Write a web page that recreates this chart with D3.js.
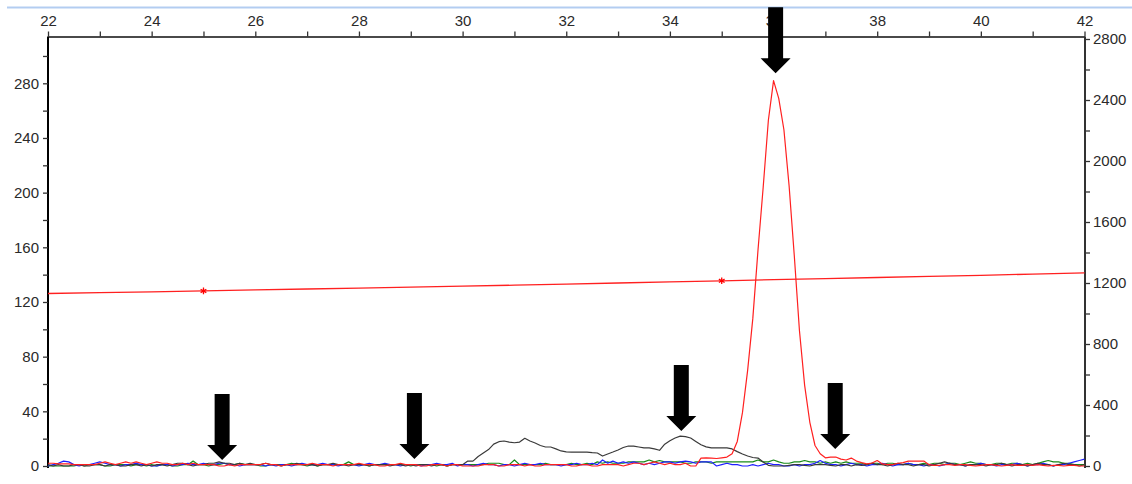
<!DOCTYPE html>
<html lang="en">
  <head>
    <meta charset="utf-8">
    <title>Chromatogram</title>
    <script src="https://d3js.org/d3.v7.min.js"></script>
    <style>
      body { margin: 0; background: #fff; }
      text { font-family: "Liberation Sans", Arial, sans-serif; font-size: 15px; fill: #2a2a2a; }
    </style>
  </head>
  <body>
    <div id="chart"></div>
    <script type="text/javascript">
      // sampling of the traces: start x and step (minutes)
      var xStart = 22, xStep = 0.1;

      // trace values, one per sample (left axis units)
      var blackTrace = [
        1,0,1,0,0,1,1,0,0,1, 1,0,1,1,0,0,1,1,0,1, 0,1,1,0,1,2,2,1,0,1,
        1,2,2,3,2,2,1,2,1,2, 1,1,2,1,1,0,1,1,2,1, 1,1,0,1,1,2,1,1,0,1,
        1,1,0,1,1,1,0,1,1,0, 1,0,1,1,0,1,1,0,1,1,
        1,3.6,3.6,7,9.5,12,16,17.8,18.3,17.5, 17,17.5,20.3,18.3,16.8,15,13.9,13.9,12.5,11,
        10.3,10.2,10.2,10.2,10.2,9.8,9.5,7.3,8.8,10.2, 11.7,13.5,14.6,14.6,13.9,13.2,13.2,12.5,11.5,16,
        18.5,20.5,21.9,21.5,20.5,18,15.5,14,13.2,13.2, 13.2,13.2,12.5,10.5,8.8,7.3,6.2,5.8,3,0.5,
        0,0,0,0.5,1,1,0.5,0,1,1, 1,0.5,0,1,1,0,1,0.5,1,2, 1,1,0,1,2,1,1,0,1,1,
        0,1,2,3,2,1,1,0,1,1, 1,0,1,1,2,1,0,1,1,0, 1,2,1,1,0,1,2,1,1,0, 1
      ];
      var blueTrace = [
        0,1,2,3.6,3,1,0,1,1,2, 3,2,1,1,0,1,1,2,1,1, 0,0,1,1,0,1,1,2,1,1,
        2,1,1,2,2,1,1,0,1,1, 1,1,0,1,0,1,1,0,1,2, 1,1,1,2,1,1,0,1,1,1,
        0,1,2,1,1,2,1,1,0,1, 1,1,0,1,1,2,1,1,2,0, 1,1,0,1,2,1,1,0,1,1,
        0,1,2,1,1,2,1,1,1,0, 1,1,2,1,1,2,1,4.4,2,3.6, 2,3,2,3,2,1,2,1,2,3,
        3,2,3,3.5,3,2,3,3,3,0, 1,2,1,1,0,0,1,0,1,2, 1,1,0,0,1,0,1,1,2,4,
        2,1,1,0,1,2,1,1,0,1, 1,2,1,0,1,1,2,1,1,0, 1,1,0,1,2,1,1,0,1,1,
        2,1,1,0,1,1,1,2,1,0, 1,1,2,1,0,1,1,2,3,4, 5
      ];
      var greenTrace = [
        0,0,0,0,0,0,1,0,1,1, 1,0,0,1,1,1,0,1,1,0, 1,0,1,1,0,0,1,1,3.6,1,
        1,0,1,1,2,1,1,2,1,1, 1,0,0,1,1,1,1,2,1,1, 0,1,0,1,1,1,1,1,3,1,
        1,1,0,1,1,1,1,1,1,1, 0,1,1,1,1,0,1,0,1,1, 1,1,1,1,1,2,2,2,1,1,
        4.4,1,1,1,1,1,2,1,1,1, 1,2,1,1,2,1,3,2,3,2, 2,2,3,3,3,3,4.4,3,4,3,
        3,3,3,2,2,3,3,3,2,3, 3,3,3,3,3,3,3,4.4,3,3, 4.4,3,2,2,3,3,4,3,3,2,
        3,2,3,2,3,2,2,2,1,2, 2,1,2,2,1,1,2,1,1,2, 1,2,2,1,2,2,1,2,3,2,
        2,1,1,2,2,1,2,2,1,2, 1,2,3,4,3,3,2,2,1,1, 1
      ];
      var redTrace = [
        2,2,1.5,1.5,1.5,1,1,1,1,1, 2,3,2,1,2,3,2,3,2,1, 2,3,2,2,1,1,2,1,2,1,
        1,1,1,0,0,1,0,1,1,1, 1,1,2,1,1,0,1,1,1,1, 1,2,1,1,1,0,1,1,1,1,
        2,1,1,1,0,0,1,1,2,1, 1,1,0,0,1,1,1,0,1,1, 0,0,0,0,1,1,1,0,0,1,
        1,1,0,1,0,0,1,1,1,1, 1,0,0,1,1,0,0,1,1,1, 1,0,1,2,2,1,2,3,2,1,
        2,1,1,2,0,0,5.8,6,5.8,5.5, 6,6.5,9,18,39,70,108,158,204,253,
        282,269,246,205,154,99,59,32,15,9, 6,6.5,6.6,5,4.4,5.8,3.6,2.5,1.5,2.2,
        4,1.5,1,1,2,2.5,3.6,3.6,3.6,3.6, 1,0.5,0.5,1,1,0.5,1,1,0.5,0,
        0.5,1,1,0.5,0,0.5,1,0.5,0.5,1, 0.5,1,0.5,0,0.5,0.5,0,0.5,0.5,0, 0
      ];

      // reference line, one point per minute, and its two marked points
      var refX = [22,23,24,25,26,27,28,29,30,31,32,33,34,35,36,37,38,39,40,41,42];
      var refY = [126.2,126.8,127.4,128.1,128.8,129.5,130.2,130.9,131.6,132.3,133.1,
                  133.9,134.7,135.5,136.3,137.1,137.9,138.7,139.5,140.4,141.3];
      var refMarks = [{x: 25, y: 128.1}, {x: 35, y: 135.5}];

      // arrows: x position and tip value
      var arrowX   = [25.36, 29.07, 34.22, 36.04, 37.19];
      var arrowTip = [4.4, 5.1, 25.6, 287.3, 12.4];

      // tick values
      var xTicks = [22,24,26,28,30,32,34,36,38,40,42];
      var xMinor = d3.range(22, 43, 1);
      var leftTicks = d3.range(0, 301, 20);
      var rightTicks = d3.range(0, 2801, 200);

      var svg = d3.select('#chart')
        .append('svg')
        .attr('width', 1132)
        .attr('height', 484);

      var xScale = d3.scaleLinear().domain([22, 42]).range([48, 1084.5]);
      var yLeft = d3.scaleLinear().domain([0, 280]).range([466, 83.3]);
      var yRight = d3.scaleLinear().domain([0, 2800]).range([466, 39]);

      // light blue frame line at the very top
      svg.append('line')
        .attr('x1', 7).attr('x2', 1132)
        .attr('y1', 7.5).attr('y2', 7.5)
        .style('stroke', '#b3cdf1')
        .style('stroke-width', 2);

      // top axis
      var topAxis = d3.axisTop(xScale)
        .tickValues(xMinor)
        .tickSize(5)
        .tickSizeOuter(0)
        .tickPadding(6)
        .tickFormat(function (d) { return xTicks.indexOf(d) >= 0 ? d : ''; });
      var gTop = svg.append('g')
        .attr('transform', 'translate(0, 36.5)')
        .call(topAxis);
      gTop.select('.domain').style('stroke', '#4a4a4a').style('stroke-width', 2);
      gTop.selectAll('.tick line').style('stroke', '#333').style('stroke-width', 1.3);

      // left axis
      var leftAxis = d3.axisLeft(yLeft)
        .tickValues(leftTicks)
        .tickSize(5)
        .tickSizeOuter(0)
        .tickPadding(4)
        .tickFormat(function (d) { return d % 40 === 0 ? d : ''; });
      var gLeft = svg.append('g')
        .attr('transform', 'translate(48, 0)')
        .call(leftAxis);
      gLeft.select('.domain').attr('d', 'M0,36.5V468').style('stroke', '#000').style('stroke-width', 2);
      gLeft.selectAll('.tick line').style('stroke', '#333').style('stroke-width', 1.3);

      // right axis
      var rightAxis = d3.axisRight(yRight)
        .tickValues(rightTicks)
        .tickSize(5)
        .tickSizeOuter(0)
        .tickPadding(3)
        .tickFormat(function (d) { return d % 400 === 0 ? d : ''; });
      var gRight = svg.append('g')
        .attr('transform', 'translate(1085, 0)')
        .call(rightAxis);
      gRight.select('.domain').attr('d', 'M0,36.5V468').style('stroke', '#333').style('stroke-width', 2);
      gRight.selectAll('.tick line').style('stroke', '#333').style('stroke-width', 1.3);

      svg.selectAll('.tick text').style('font-family', '"Liberation Sans", Arial, sans-serif')
        .style('font-size', '15px').style('fill', '#2a2a2a');

      // traces
      var line = d3.line()
        .x(function (d, i) { return xScale(xStart + i * xStep); })
        .y(function (d) { return yLeft(d); });

      var traces = [
        {values: greenTrace, color: '#1a8a1a'},
        {values: blueTrace, color: '#1f1fff'},
        {values: blackTrace, color: '#3a3a3a'},
        {values: redTrace, color: '#ff2020'}
      ];
      traces.forEach(function (t) {
        svg.append('path')
          .datum(t.values)
          .attr('d', line)
          .attr('fill', 'none')
          .style('stroke', t.color)
          .style('stroke-width', 1.2)
          .style('stroke-linejoin', 'round');
      });

      // reference line with star markers
      var refLine = d3.line()
        .x(function (d, i) { return xScale(refX[i]); })
        .y(function (d) { return yLeft(d); });
      svg.append('path')
        .datum(refY)
        .attr('d', refLine)
        .attr('fill', 'none')
        .style('stroke', '#ff2020')
        .style('stroke-width', 1.3);
      svg.selectAll('.star')
        .data(refMarks)
        .enter()
        .append('path')
          .attr('class', 'star')
          .attr('transform', function (d) { return 'translate(' + xScale(d.x) + ',' + yLeft(d.y) + ')'; })
          .attr('d', d3.symbol().type(d3.symbolAsterisk).size(30))
          .style('stroke', '#ff0000')
          .style('stroke-width', 1.3);

      // arrows pointing down to the peaks
      var arrows = arrowX.map(function (x, i) { return {x: x, tip: arrowTip[i]}; });
      svg.selectAll('.arrow')
        .data(arrows)
        .enter()
        .append('path')
          .attr('class', 'arrow')
          .attr('transform', function (d) { return 'translate(' + xScale(d.x) + ',' + yLeft(d.tip) + ')'; })
          .attr('d', 'M0,0L-15,-15L-7.5,-15L-7.5,-66L7.5,-66L7.5,-15L15,-15Z')
          .attr('fill', '#000');
    </script>
  </body>
</html>
